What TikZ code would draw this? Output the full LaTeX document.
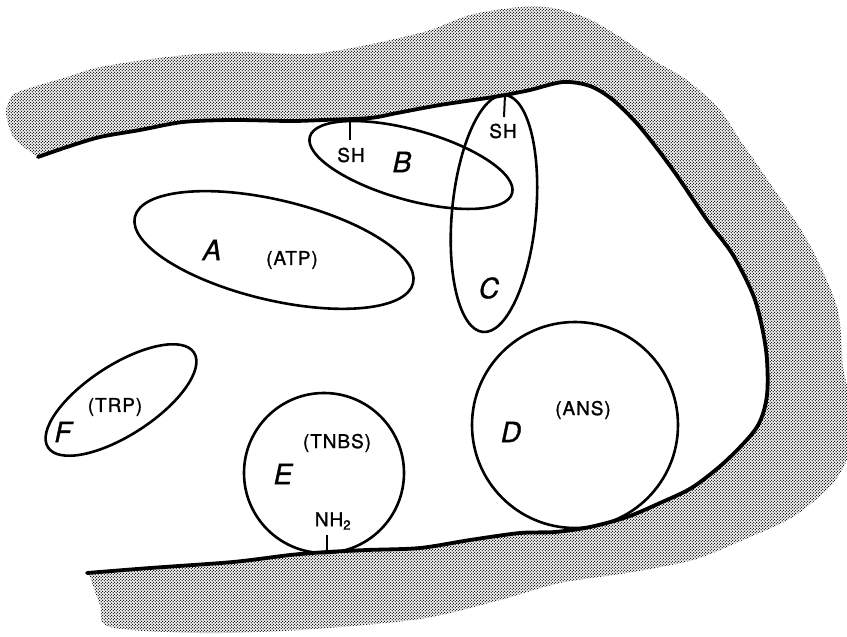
\documentclass[tikz,border=0pt]{standalone}
\usepackage{fontspec}
\setmainfont{TeX Gyre Heros}
\usetikzlibrary{patterns}

% fine halftone screen for the shaded wall
\pgfdeclarepatternformonly{halftone}{\pgfpointorigin}{\pgfqpoint{3.4pt}{3.4pt}}{\pgfqpoint{3.4pt}{3.4pt}}{%
  \pgfpathcircle{\pgfqpoint{0.85pt}{0.85pt}}{0.85pt}%
  \pgfpathcircle{\pgfqpoint{2.55pt}{2.55pt}}{0.85pt}%
  \pgfusepath{fill}%
}

\tikzset{
  wall/.style={pattern=halftone, pattern color=black},
  rim/.style={line width=3.8pt, line join=round, line cap=round},
  site/.style={line width=2.6pt},
  tick/.style={line width=2pt},
  tag/.style={inner sep=0pt, font=\fontsize{19}{19}\selectfont\addfontfeature{LetterSpace=5,FakeBold=1.2}},
  letter/.style={inner sep=0pt, font=\fontsize{28}{28}\selectfont\itshape\addfontfeature{FakeBold=1}},
}

\begin{document}
\begin{tikzpicture}[x=1pt, y=-1pt]
\useasboundingbox (0,0) rectangle (847,637);

% shaded wall: inner rim followed by the outer edge
\fill[wall]
  plot[smooth] coordinates {(38,157) (67,147) (100,137) (140,130) (183,122) (233,120)
    (290,121) (323,120) (370,118) (397,113) (440,105) (487,98) (505,95) (530,90)
    (563,82) (590,86) (613,100) (640,127) (673,170) (707,220) (733,255) (755,300)
    (766,350) (767,395) (757,427) (727,460) (693,487) (660,503) (627,517) (590,527)
    (555,532) (520,533) (470,540) (420,548) (367,550) (327,552) (290,555) (233,562)
    (150,568) (87,573)}
  -- plot[smooth] coordinates {(90,577) (100,605) (110,627) (200,633) (300,630)
    (420,619) (500,600) (560,583) (627,573) (693,560) (743,540) (793,517) (833,483)
    (850,450) (850,400) (843,367) (837,307) (807,240) (763,173) (740,140) (720,110)
    (687,80) (653,60) (620,37) (587,18) (553,8) (520,7) (470,15) (420,33) (320,53)
    (233,52) (167,57) (100,67) (67,77) (33,87) (13,95) (6,112) (14,138) (38,157)}
  -- cycle;

% the rim line
\draw[rim]
  plot[smooth] coordinates {(38,157) (67,147) (100,137) (140,130) (183,122) (233,120)
    (290,121) (323,120) (370,118) (397,113) (440,105) (487,98) (505,95) (530,90)
    (563,82) (590,86) (613,100) (640,127) (673,170) (707,220) (733,255) (755,300)
    (766,350) (767,395) (757,427) (727,460) (693,487) (660,503) (627,517) (590,527)
    (555,532) (520,533) (470,540) (420,548) (367,550) (327,552) (290,555) (233,562)
    (150,568) (87,573)};

% binding sites
\coordinate (cA) at (274,250);
\coordinate (cB) at (411,165);
\coordinate (cC) at (494,213.5);
\coordinate (cD) at (575,425);
\coordinate (cE) at (324,473);
\coordinate (cF) at (121,400);

\draw[site, rotate around={-13.4:(cA)}] (cA) ellipse [x radius=143pt, y radius=50pt];
\draw[site, rotate around={-15.6:(cB)}] (cB) ellipse [x radius=105pt, y radius=35pt];
\draw[site, rotate around={-5.3:(cC)}] (cC) ellipse [x radius=42pt, y radius=119pt];
\draw[site] (cD) circle [radius=103pt];
\draw[site] (cE) circle [radius=80pt];
\draw[site, rotate around={33:(cF)}] (cF) ellipse [x radius=87pt, y radius=35pt];

% labels
\node[letter] (lA) at (212,250) {A};
\node[tag] (atp) at (292,260) {(ATP)};
\node[letter] (lB) at (402,162) {B};
\node[tag] (shB) at (351,155) {SH};
\node[letter] (lC) at (489,288) {C};
\node[tag] (shC) at (503,131) {SH};
\node[letter] (lD) at (511,432) {D};
\node[tag] (ans) at (583,410) {(ANS)};
\node[letter] (lE) at (283,474) {E};
\node[tag] (tnbs) at (337,443) {(TNBS)};
\node[tag] (nh) at (333,521) {NH\textsubscript{2}};
\node[letter] (lF) at (63,432) {F};
\node[tag] (trp) at (115,407) {(TRP)};

% attachment ticks
\coordinate (tipB) at (350,121);
\coordinate (endB) at (350,140);
\coordinate (tipC) at (505,95);
\coordinate (endC) at (504,117);
\coordinate (tipE) at (327,553);
\coordinate (endE) at (327,535);
\draw[tick] (tipB) -- (endB);
\draw[tick] (tipC) -- (endC);
\draw[tick] (tipE) -- (endE);
\end{tikzpicture}
\end{document}
